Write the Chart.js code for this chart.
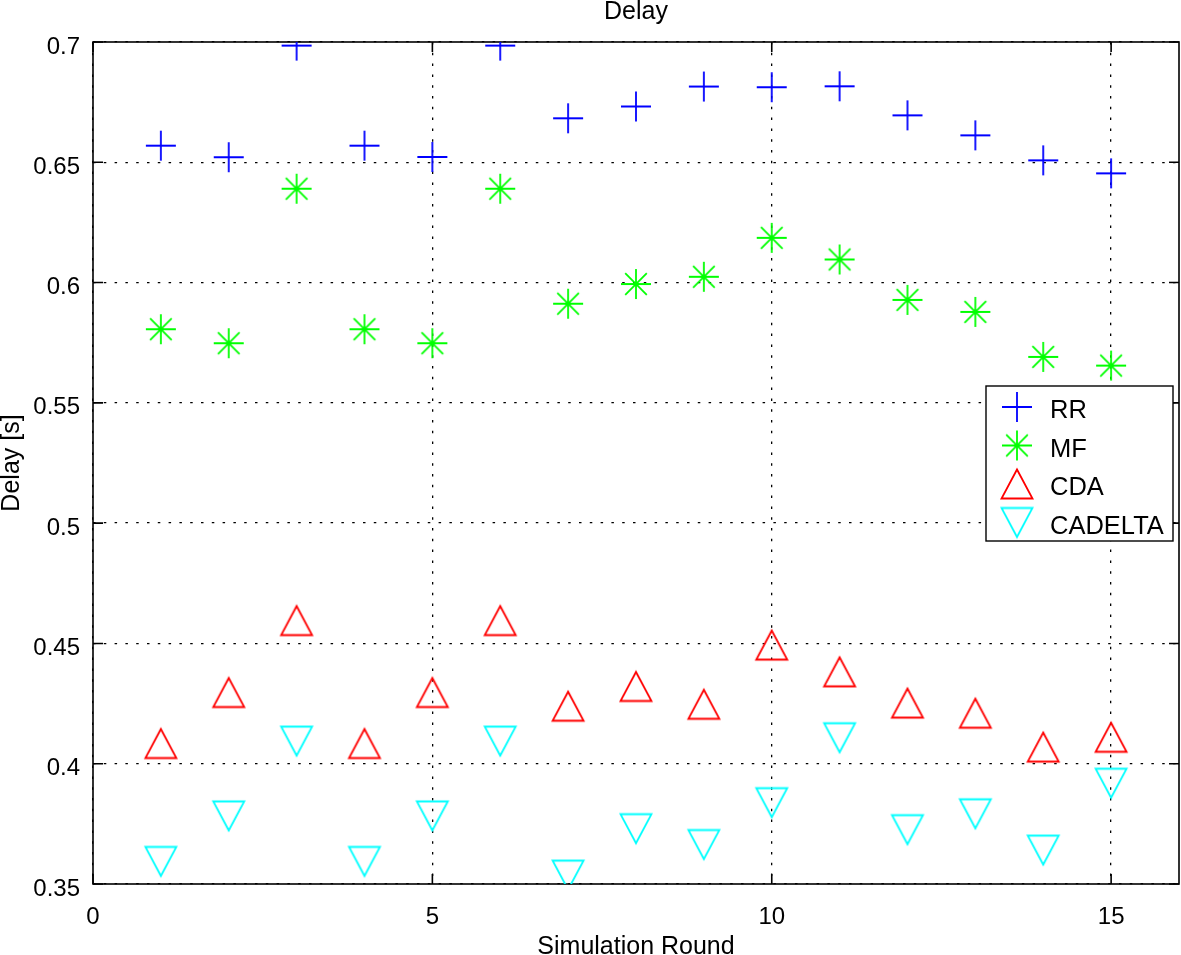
<!DOCTYPE html>
<html>
<head>
<meta charset="utf-8">
<title>Delay</title>
<script src="https://cdn.jsdelivr.net/npm/chart.js@4.4.1/dist/chart.umd.min.js"></script>
<style>
  html, body { margin: 0; padding: 0; background: #fff; overflow: hidden; }
  #wrap { position: relative; width: 1181px; height: 955px; }
</style>
</head>
<body>
<div id="wrap"><canvas id="myChart"></canvas></div>
<script>
var rounds = [1, 2, 3, 4, 5, 6, 7, 8, 9, 10, 11, 12, 13, 14, 15];
var rrValues = [0.6569, 0.6521, 0.6985, 0.6569, 0.6522, 0.6985, 0.6683, 0.6732, 0.6815, 0.6812, 0.6816, 0.6695, 0.6612, 0.6508, 0.6454];
var mfValues = [0.5806, 0.5748, 0.6390, 0.5806, 0.5748, 0.6390, 0.5912, 0.5994, 0.6024, 0.6186, 0.6096, 0.5928, 0.5878, 0.5691, 0.5655];
var cdaValues = [0.4084, 0.4296, 0.4595, 0.4084, 0.4296, 0.4595, 0.4239, 0.4321, 0.4247, 0.4493, 0.4382, 0.4252, 0.4210, 0.4069, 0.4110];
var cadeltaValues = [0.3594, 0.3783, 0.4094, 0.3594, 0.3783, 0.4094, 0.3537, 0.3730, 0.3664, 0.3838, 0.4108, 0.3726, 0.3792, 0.3641, 0.3919];

var seriesNames = ["RR", "MF", "CDA", "CADELTA"];
var seriesColors = ["#0000ff", "#00ff00", "#ff0000", "#00ffff"];
var seriesMarkers = ["plus", "star", "up", "down"];

var xTicks = [0, 5, 10, 15];
var xTickLabels = ["0", "5", "10", "15"];
var yTicks = [0.35, 0.4, 0.45, 0.5, 0.55, 0.6, 0.65, 0.7];
var yTickLabels = ["0.35", "0.4", "0.45", "0.5", "0.55", "0.6", "0.65", "0.7"];

var fontFamily = '"Liberation Sans", Arial, Helvetica, sans-serif';
Chart.defaults.font.family = fontFamily;
Chart.defaults.color = "#000";

// matlab-like markers drawn into small canvases, used as point styles
function makeMarker(kind, color) {
  var c = document.createElement("canvas");
  c.width = 36; c.height = 36;
  var g = c.getContext("2d");
  var m = 18, r = 15;
  g.strokeStyle = color;
  g.lineWidth = 1.8;
  g.beginPath();
  if (kind == "plus" || kind == "star") {
    g.moveTo(m - r, m); g.lineTo(m + r, m);
    g.moveTo(m, m - r); g.lineTo(m, m + r);
    if (kind == "star") {
      var d = r * 0.72;
      g.moveTo(m - d, m - d); g.lineTo(m + d, m + d);
      g.moveTo(m - d, m + d); g.lineTo(m + d, m - d);
    }
  } else if (kind == "up") {
    g.moveTo(m, m - 14.5); g.lineTo(m + 15.5, m + 14.5); g.lineTo(m - 15.5, m + 14.5); g.closePath();
  } else {
    g.moveTo(m, m + 14.5); g.lineTo(m + 15.5, m - 14.5); g.lineTo(m - 15.5, m - 14.5); g.closePath();
  }
  g.stroke();
  return c;
}

var markerImgs = seriesMarkers.map(function (k, i) { return makeMarker(k, seriesColors[i]); });
var allValues = [rrValues, mfValues, cdaValues, cadeltaValues];

var datasets = allValues.map(function (vals, i) {
  return {
    label: seriesNames[i],
    data: rounds.map(function (x, j) { return { x: x, y: vals[j] }; }),
    pointStyle: markerImgs[i],
    pointRadius: 15,
    showLine: false
  };
});

// inward ticks and the axes box
var boxPlugin = {
  id: "box",
  beforeDatasetsDraw: function (chart) {
    var ctx = chart.ctx, a = chart.chartArea;
    var xs = chart.scales.x, ys = chart.scales.y;
    ctx.save();
    ctx.strokeStyle = "#000";
    ctx.lineWidth = 1.6;
    ctx.beginPath();
    xTicks.forEach(function (v) {
      var px = xs.getPixelForValue(v);
      ctx.moveTo(px, a.bottom); ctx.lineTo(px, a.bottom - 10);
      ctx.moveTo(px, a.top); ctx.lineTo(px, a.top + 10);
    });
    yTicks.forEach(function (v) {
      var py = ys.getPixelForValue(v);
      ctx.moveTo(a.left, py); ctx.lineTo(a.left + 10, py);
      ctx.moveTo(a.right, py); ctx.lineTo(a.right - 10, py);
    });
    ctx.stroke();
    ctx.strokeRect(a.left, a.top, a.right - a.left, a.bottom - a.top);
    ctx.restore();
  }
};

// legend box inside the plot, top right
var legendPlugin = {
  id: "inLegend",
  afterDatasetsDraw: function (chart) {
    var ctx = chart.ctx, a = chart.chartArea;
    var w = 187, h = 155;
    var bx = a.right - 6 - w, by = 386;
    ctx.save();
    ctx.fillStyle = "#fff";
    ctx.fillRect(bx, by, w, h);
    ctx.strokeStyle = "#000";
    ctx.lineWidth = 1.4;
    ctx.strokeRect(bx, by, w, h);
    ctx.font = "25.5px " + fontFamily;
    ctx.fillStyle = "#000";
    ctx.textBaseline = "middle";
    ctx.textAlign = "left";
    seriesNames.forEach(function (name, i) {
      var cy = by + 21 + i * 38.5;
      var img = markerImgs[i];
      ctx.drawImage(img, bx + 31 - img.width / 2, cy - img.height / 2);
      ctx.fillText(name, bx + 64, cy + 4);
    });
    ctx.restore();
  }
};

new Chart("myChart", {
  type: "scatter",
  data: { datasets: datasets },
  options: {
    responsive: true,
    maintainAspectRatio: false,
    animation: false,
    layout: { autoPadding: false, padding: { left: 0, right: 2, top: 0, bottom: 0 } },
    plugins: {
      legend: { display: false },
      tooltip: { enabled: false },
      title: {
        display: true,
        fullSize: false,
        text: "Delay",
        color: "#000",
        font: { size: 25, weight: "normal", lineHeight: 1 },
        padding: { top: 0, bottom: 17 }
      }
    },
    scales: {
      x: {
        type: "linear",
        min: 0,
        max: 16,
        afterBuildTicks: function (s) { s.ticks = xTicks.map(function (v) { return { value: v }; }); },
        afterFit: function (s) { s.height = 71; s.paddingLeft = 0; s.paddingRight = 0; },
        grid: { color: "#000", lineWidth: 1.3, drawTicks: false },
        border: { display: false, dash: [2.5, 8.3] },
        ticks: {
          color: "#000",
          font: { size: 24 },
          padding: 19,
          maxRotation: 0,
          autoSkip: false,
          callback: function (v) { return xTickLabels[xTicks.indexOf(v)]; }
        },
        title: {
          display: true,
          text: "Simulation Round",
          color: "#000",
          font: { size: 25, lineHeight: 0.65 },
          padding: 0
        }
      },
      y: {
        type: "linear",
        min: 0.35,
        max: 0.7,
        afterBuildTicks: function (s) { s.ticks = yTicks.map(function (v) { return { value: v }; }); },
        afterFit: function (s) { s.width = 93; s.paddingTop = 0; s.paddingBottom = 0; },
        grid: { color: "#000", lineWidth: 1.3, drawTicks: false },
        border: { display: false, dash: [2.5, 8.3] },
        ticks: {
          color: "#000",
          font: { size: 24 },
          padding: 13,
          labelOffset: 5,
          autoSkip: false,
          callback: function (v) { return yTickLabels[yTicks.indexOf(v)]; }
        },
        title: {
          display: true,
          text: "Delay [s]",
          color: "#000",
          font: { size: 25, lineHeight: 0.95 },
          padding: 0
        }
      }
    }
  },
  plugins: [boxPlugin, legendPlugin]
});
</script>
</body>
</html>
